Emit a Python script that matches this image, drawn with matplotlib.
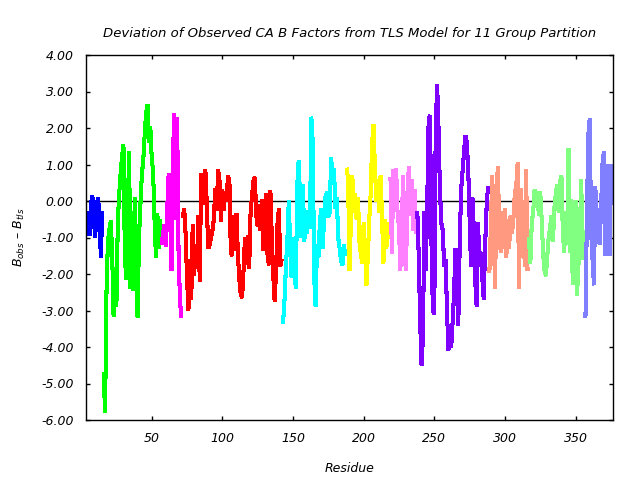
import matplotlib
matplotlib.use("Agg")
import matplotlib.pyplot as plt
from matplotlib.ticker import FormatStrFormatter
import numpy as np

# first residue of each TLS group and the group colours
group_start = [4, 16, 57, 72, 143, 188, 219, 238, 289, 317, 357]
group_colors = ['#0000ff', '#00ff00', '#ff00ff', '#ff0000', '#00ffff', '#ffff00',
                '#ff80ff', '#8000ff', '#ff9980', '#80ff80', '#8080ff']

# B_obs - B_tls per residue, one list per group
dev_g1 = [-0.50, -0.30, -0.95, -0.10, 0.15, -0.45, -1.00, -0.20, 0.10, -0.45, -1.55, -0.30]
dev_g2 = [-4.70, -5.80, -2.50, -1.10, -0.80, -0.55, -1.40, -3.15, -2.05, -2.90,
          -0.60, 0.20, 0.75, 1.20, 1.55, -1.50, -2.15, -0.50, 1.35, -2.40,
          -0.85, -2.45, 0.10, -1.90, -3.20, -1.00, -0.10, 0.70, 1.10, 1.80,
          2.40, 2.65, 1.60, 2.05, 1.20, 0.80, -0.50, -1.55, -0.35, -1.30, -0.50]
dev_g3 = [-1.20, -0.90, -0.65, -1.25, -0.20, 0.75, -0.30, -1.90, 1.20, 2.40,
          -0.50, 2.30, -1.40, -2.70, -3.20]
dev_g4 = [-0.45, -0.20, -0.90, -2.10, -3.00, -1.60, -2.70, -0.65, -2.05, -1.30,
          -1.80, -0.40, -2.20, 0.75, 0.30, -0.10, 0.85, -0.10, -1.30, -1.20,
          -1.00, -0.80, -0.50, 0.35, -0.25, 0.85, 0.55, -0.55, 0.30, -0.25,
          0.25, 0.00, 0.70, 0.55, -1.40, -1.50, -0.40, -1.35, -0.35, -1.45,
          -2.15, -2.55, -2.65, -1.90, -1.00, -1.75, -0.95, -1.85, -0.30, 0.15,
          0.55, 0.65, -0.40, -0.70, -0.10, -0.80, 0.05, -1.35, -0.50, 0.20,
          -1.50, -1.75, 0.30, -1.00, -2.00, -2.75, -1.95, -0.65, -0.20, -1.80,
          -1.60]
dev_g5 = [-3.35, -2.70, -1.80, -1.10, 0.00, -1.20, -2.10, -1.00, -1.90, -2.40,
          0.40, 1.10, 0.10, -1.00, 0.45, -1.10, -0.60, -0.90, -0.25, -0.75,
          2.30, 1.60, -2.10, -2.90, -1.20, -1.55, -0.60, -0.20, -1.30, -0.50,
          0.10, 0.25, -0.45, -0.30, 1.20, 0.55, 0.90, -0.20, 0.10, -1.00,
          -1.30, -1.65, -1.75, -1.20, -1.50]
dev_g6 = [0.90, 0.60, -1.90, -0.55, 0.70, -0.30, 0.20, -0.50, 0.10, -1.10,
          -1.45, -1.70, -0.60, -1.30, -2.30, -1.50, -0.50, 0.20, 1.60, 2.10,
          0.90, 0.00, 0.60, -0.30, 0.70, -0.40, -1.70, -0.50, -1.30, -1.00,
          -0.60]
dev_g7 = [0.65, -1.45, 0.85, 0.20, 0.90, -0.30, -0.70, -1.90, -0.60, 0.70,
          -1.50, -1.90, 0.20, 0.95, -0.40, 0.60, -0.80, 0.30, -0.90]
dev_g8 = [-0.30, -1.50, -3.30, -4.50, -3.70, -0.30, -1.90, -0.10, 2.20, 2.35,
          -1.10, -3.00, -3.10, 1.90, 3.20, 2.00, 0.30, -0.60, -0.80, -1.80,
          -1.60, -3.00, -4.10, -3.60, -4.00, -3.30, -2.50, -1.30, -2.40, -3.40,
          -1.20, 0.30, 0.80, 1.30, 1.80, 1.60, 0.90, -0.50, -1.80, 0.10,
          -0.80, -2.20, -2.90, -0.60, -1.80, -1.40, -2.10, -2.70, -1.20, -0.20,
          0.40]
dev_g9 = [-1.95, -0.80, 0.70, -0.60, -2.40, 0.20, 0.95, -0.80, -1.40, -0.30,
          -1.30, -0.20, -1.55, -0.50, -1.30, -0.40, -0.90, -0.50, 0.20, 0.40,
          1.05, -2.40, 0.35, -0.50, 0.00, -1.80, 0.85, -1.90]
dev_g10 = [-1.00, -1.70, -0.60, -0.30, 0.30, -0.10, 0.25, -0.40, 0.25, -0.50,
           -1.40, -1.90, -2.05, -1.50, -1.00, -0.70, -0.40, -1.10, -0.20, 0.20,
           0.45, -0.30, 0.50, 0.70, -0.90, -1.40, -0.30, -1.20, 1.45, -1.40,
           0.05, -2.30, -0.70, 0.00, -2.60, -1.80, -1.00, 0.60, -1.60, -0.80]
dev_g11 = [-3.20, -0.50, 1.80, 2.25, -0.80, -1.60, -2.30, 0.40, -0.80, -0.20,
           -1.20, -0.30, 1.00, 1.35, -1.50, 1.00, -1.20, -1.50, 1.00, -0.10]

groups = [dev_g1, dev_g2, dev_g3, dev_g4, dev_g5, dev_g6,
          dev_g7, dev_g8, dev_g9, dev_g10, dev_g11]

plt.rcParams['font.family'] = 'DejaVu Sans'
plt.rcParams['font.style'] = 'italic'
plt.rcParams['mathtext.fontset'] = 'dejavusans'

fig = plt.figure(figsize=(6.4, 4.8), dpi=100)
ax = fig.add_axes([86/640, 1 - 420/480, 527/640, 365/480])

ax.axhline(0, color='black', lw=1.0, zorder=1)
for start, vals, col in zip(group_start, groups, group_colors):
    res = np.arange(start, start + len(vals))
    ax.plot(res, vals, color=col, lw=2.2, zorder=2,
            solid_joinstyle='bevel', solid_capstyle='butt', antialiased=False)

ax.set_xlim(3.5, 376.5)
ax.set_ylim(-6, 4)
ax.set_xticks([50, 100, 150, 200, 250, 300, 350])
ax.set_yticks(np.arange(-6, 5, 1))
ax.yaxis.set_major_formatter(FormatStrFormatter('%.2f'))
ax.tick_params(direction='in', top=True, right=True, length=3, width=1,
               labelsize=9, pad=9)
for sp in ax.spines.values():
    sp.set_linewidth(1)

ax.set_title('Deviation of Observed CA B Factors from TLS Model for 11 Group Partition',
             fontsize=9.5, pad=13)
ax.set_xlabel('Residue', fontsize=9, labelpad=12)
ax.set_ylabel(r'$B_{obs}$ – $B_{tls}$', fontsize=9, labelpad=10)

fig.savefig('out.png', dpi=100)
